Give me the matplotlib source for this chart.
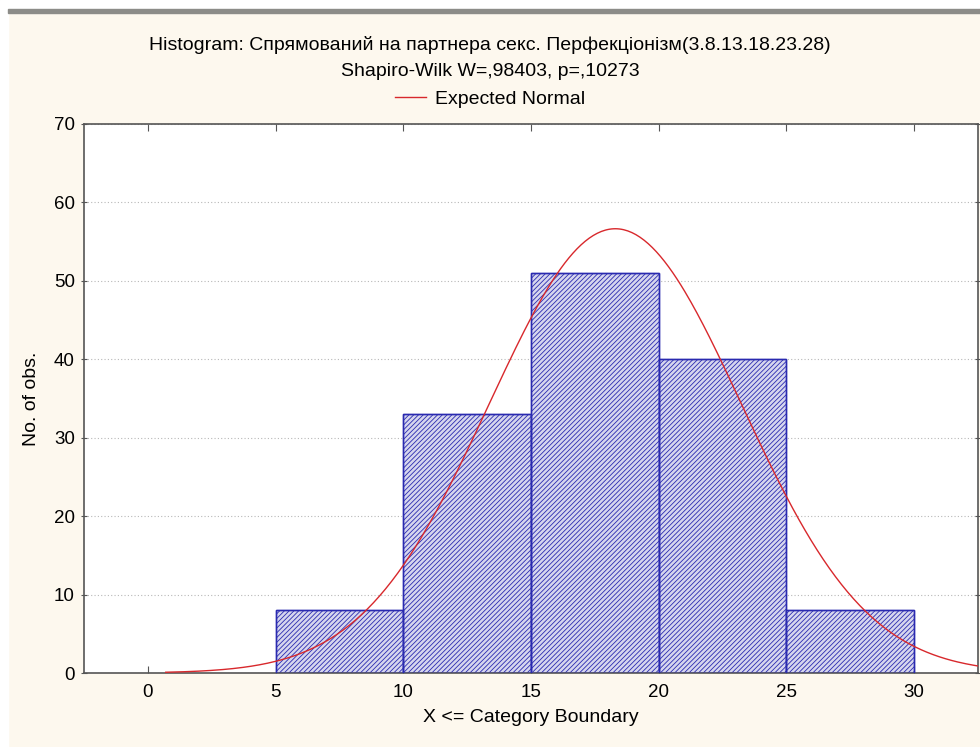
import numpy as np
import matplotlib
matplotlib.use('Agg')
import matplotlib.pyplot as plt
from matplotlib.patches import Rectangle

plt.rcParams['font.family'] = ['Liberation Sans', 'DejaVu Sans']
plt.rcParams['hatch.linewidth'] = 0.6

# histogram data
bin_left = [5, 10, 15, 20, 25]
bin_width = 5
counts = [8, 33, 51, 40, 8]

# expected normal fit
n_obs = 140
mean = 18.3
sd = 4.93
x_start = 0.7
x_end = 32.5

title1 = 'Histogram: Спрямований на партнера секс. Перфекціонізм(3.8.13.18.23.28)'
title2 = 'Shapiro-Wilk W=,98403, p=,10273'

fig = plt.figure(figsize=(9.8, 7.47), dpi=100)
fig.patch.set_facecolor('#fdf8ee')
# white margins and gray band at the top like the screenshot
fig.add_artist(Rectangle((0, 0), 8 / 980, 1, transform=fig.transFigure, color='white', zorder=-1))
fig.add_artist(Rectangle((0, 1 - 9 / 747), 1, 9 / 747, transform=fig.transFigure, color='white', zorder=-1))
fig.add_artist(Rectangle((8 / 980, 1 - 13 / 747), 1, 4 / 747, transform=fig.transFigure, color='#8c8c88', zorder=-1))

ax = fig.add_axes([84 / 980, 74 / 747, 894 / 980, 549 / 747])
ax.set_facecolor('white')

ax.bar(bin_left, counts, width=bin_width, align='edge', facecolor='#d6d6ee',
       edgecolor='#2a2ab0', hatch='///////', linewidth=1.0, zorder=2)
# redraw edges in blue over hatch
ax.bar(bin_left, counts, width=bin_width, align='edge', facecolor='none',
       edgecolor='#2a2ab0', linewidth=1.0, zorder=3)

xs = np.linspace(x_start, x_end, 400)
ys = n_obs * bin_width * np.exp(-0.5 * ((xs - mean) / sd) ** 2) / (sd * np.sqrt(2 * np.pi))
line, = ax.plot(xs, ys, color='#d8282c', linewidth=1.0, zorder=4, label='Expected Normal')

ax.set_xlim(-2.5, 32.5)
ax.set_ylim(0, 70)
ax.set_xticks([0, 5, 10, 15, 20, 25, 30])
ax.set_yticks([0, 10, 20, 30, 40, 50, 60, 70])
ax.grid(axis='y', linestyle=(0, (1, 2)), color='#b8b8b8', linewidth=0.8, zorder=0)
ax.set_axisbelow(True)

ax.tick_params(axis='x', direction='in', top=True, length=5, labelsize=13.5, pad=8, color='#555555')
ax.tick_params(axis='y', direction='inout', right=True, length=5, labelsize=13.5, pad=4, color='#555555')
for s in ax.spines.values():
    s.set_color('#555555')
    s.set_linewidth(1.2)

ax.set_xlabel('X <= Category Boundary', fontsize=14, labelpad=6)
ax.set_ylabel('No. of obs.', fontsize=14, labelpad=10)

fig.text(0.5, 1 - 45 / 747, title1, ha='center', va='center', fontsize=14)
fig.text(0.5, 1 - 72 / 747, title2, ha='center', va='center', fontsize=14)
fig.legend(handles=[line], loc='center', bbox_to_anchor=(0.5, 1 - 99 / 747), frameon=False,
           fontsize=14, handlelength=1.6, handletextpad=0.5)

fig.savefig('out.png', dpi=100, facecolor=fig.get_facecolor())
